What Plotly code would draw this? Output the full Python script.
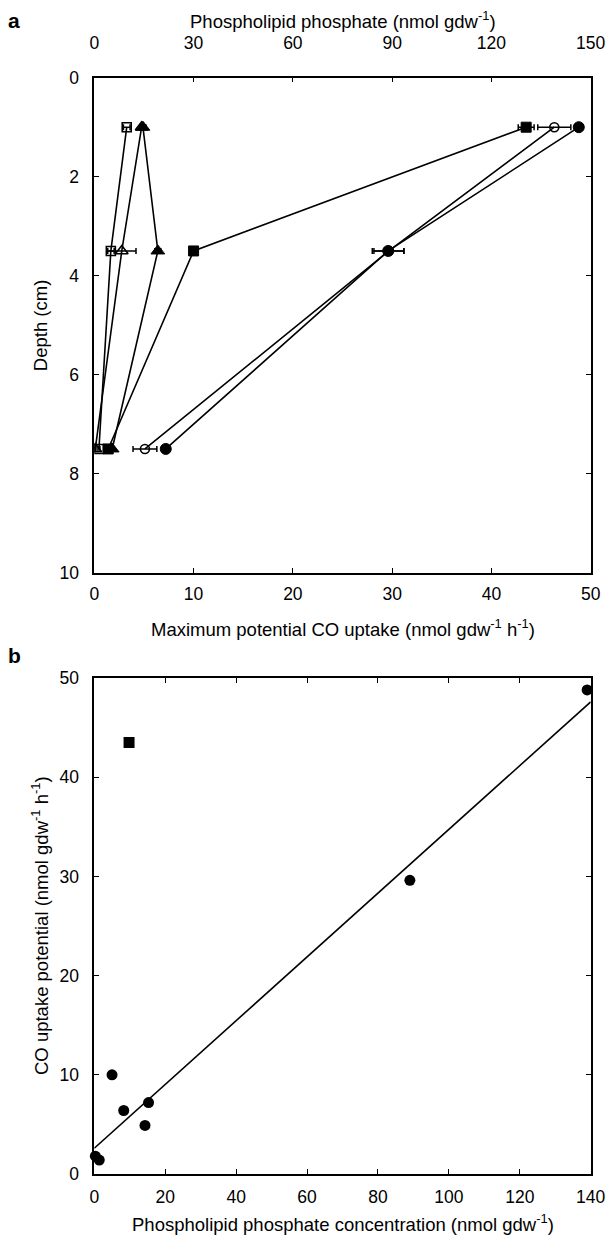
import plotly.graph_objects as go

# ---------------- data ----------------
depth = [1, 3.5, 7.5]

co_circle = [48.8, 29.6, 7.2]
co_square = [43.5, 10.0, 1.4]
co_triangle = [4.9, 6.4, 1.8]
co_circle_err = [0.4, 1.6, 0.3]
co_square_err = [0.8, 0.3, 0.1]
co_triangle_err = [0.3, 0.3, 0.1]

pl_circle = [139.0, 89.0, 15.3]
pl_square = [9.8, 5.0, 1.4]
pl_triangle = [14.3, 8.3, 0.3]
pl_circle_err = [5.0, 4.5, 3.6]
pl_square_err = [1.0, 1.0, 0.3]
pl_triangle_err = [0.5, 4.3, 0.2]

fit_intercept = 2.6
fit_slope = 0.3214
fit_x = [0, 140]

xa_ticks = [0, 10, 20, 30, 40, 50]
xa_top_ticks = [0, 30, 60, 90, 120, 150]
ya_ticks = [0, 2, 4, 6, 8, 10]
xb_ticks = [0, 20, 40, 60, 80, 100, 120, 140]
yb_ticks = [0, 10, 20, 30, 40, 50]

# ---------------- figure ----------------
OFF = 8  # page body margin
W, H = 614 - OFF, 1235 - OFF
FONT = "Liberation Sans, Arial, sans-serif"
TICK_SIZE = 17.5
TITLE_SIZE = 18.5
fig = go.Figure()


def px_x(v):
    return (v - OFF) / W


def px_y(v):
    return 1 - (v - OFF) / H


def err(vals):
    return dict(type="data", array=vals, visible=True, color="black",
                thickness=1.5, width=3)


line_style = dict(color="black", width=1.6)

# CO uptake (filled) on bottom axis
for xs, es, sym, sz in [(co_circle, co_circle_err, "circle", 11),
                        (co_square, co_square_err, "square", 10),
                        (co_triangle, co_triangle_err, "triangle-up", 12)]:
    fig.add_trace(go.Scatter(x=xs, y=depth, mode="lines+markers",
                             line=line_style, error_x=err(es),
                             marker=dict(symbol=sym, size=sz, color="black",
                                         line=dict(color="black", width=1)),
                             xaxis="x", yaxis="y", showlegend=False))

# Phospholipid (open) on top axis
for xs, es, sym, sz in [(pl_circle, pl_circle_err, "circle-open", 9),
                        (pl_square, pl_square_err, "square-open", 9),
                        (pl_triangle, pl_triangle_err, "triangle-up-open", 11)]:
    fig.add_trace(go.Scatter(x=xs, y=depth, mode="lines+markers",
                             line=line_style, error_x=err(es),
                             marker=dict(symbol=sym, size=sz, color="black",
                                         line=dict(color="black", width=1.6)),
                             xaxis="x3", yaxis="y", showlegend=False))

# Panel b
b_x = [pl_circle[0], pl_circle[1], pl_circle[2], pl_square[1], pl_square[2],
       pl_triangle[0], pl_triangle[1], pl_triangle[2]]
b_y = [co_circle[0], co_circle[1], co_circle[2], co_square[1], co_square[2],
       co_triangle[0], co_triangle[1], co_triangle[2]]
fig.add_trace(go.Scatter(x=b_x, y=b_y, mode="markers",
                         marker=dict(symbol="circle", size=11, color="black"),
                         xaxis="x2", yaxis="y2", showlegend=False, cliponaxis=False))
fig.add_trace(go.Scatter(x=[pl_square[0]], y=[co_square[0]], mode="markers",
                         marker=dict(symbol="square", size=11, color="black"),
                         xaxis="x2", yaxis="y2", showlegend=False))
fig.add_trace(go.Scatter(x=fit_x, y=[fit_intercept + fit_slope * v for v in fit_x],
                         mode="lines", line=dict(color="black", width=1.6),
                         xaxis="x2", yaxis="y2", showlegend=False))

# domains from pixel geometry of the reference
xdom = [px_x(94.3), px_x(590.7)]
ya_dom = [px_y(572.7), px_y(77.7)]
yb_dom = [px_y(1174), px_y(678)]

axis_common = dict(showline=True, linecolor="black", linewidth=1.5,
                   ticks="inside", ticklen=5, tickwidth=1.2, tickcolor="black",
                   showgrid=False, zeroline=False, automargin=False,
                   tickfont=dict(family=FONT, size=TICK_SIZE, color="black"))

fig.update_layout(
    width=W, height=H,
    margin=dict(l=0, r=0, t=0, b=0, autoexpand=False),
    paper_bgcolor="white", plot_bgcolor="white",
    font=dict(family=FONT, color="black"),
    xaxis=dict(domain=xdom, anchor="y", range=[0, 50], tickvals=xa_ticks,
               mirror=False, ticklabelstandoff=5, **axis_common),
    xaxis3=dict(overlaying="x", side="top", anchor="y", range=[0, 150],
                tickvals=xa_top_ticks, mirror=False, ticklabelstandoff=20,
                **axis_common),
    yaxis=dict(domain=ya_dom, anchor="x", range=[10, 0], tickvals=ya_ticks,
               mirror="ticks", ticklabelstandoff=10, **axis_common),
    xaxis2=dict(domain=xdom, anchor="y2", range=[0, 140], tickvals=xb_ticks,
                mirror="ticks", ticklabelstandoff=6, **axis_common),
    yaxis2=dict(domain=yb_dom, anchor="x2", range=[0, 50], tickvals=yb_ticks,
                mirror="ticks", ticklabelstandoff=10, **axis_common),
)

tfont = dict(family=FONT, size=TITLE_SIZE, color="black")
xmid = (xdom[0] + xdom[1]) / 2
annos = [
    dict(text="Phospholipid phosphate (nmol gdw<sup>-1</sup>)", x=xmid,
         y=px_y(20), xanchor="center", yanchor="middle"),
    dict(text="Maximum potential CO uptake (nmol gdw<sup>-1</sup> h<sup>-1</sup>)",
         x=xmid, y=px_y(628), xanchor="center", yanchor="middle"),
    dict(text="Depth (cm)", x=px_x(40), y=(ya_dom[0] + ya_dom[1]) / 2, textangle=-90,
         xanchor="center", yanchor="middle"),
    dict(text="Phospholipid phosphate concentration (nmol gdw<sup>-1</sup>)",
         x=xmid, y=px_y(1223), xanchor="center", yanchor="middle"),
    dict(text="CO uptake potential (nmol gdw<sup>-1</sup> h<sup>-1</sup>)", x=px_x(40),
         y=(yb_dom[0] + yb_dom[1]) / 2, textangle=-90, xanchor="center", yanchor="middle"),
]
for a in annos:
    fig.add_annotation(xref="paper", yref="paper", showarrow=False, font=tfont, **a)

for lab, ypx in [("a", 20), ("b", 655)]:
    fig.add_annotation(text=f"<b>{lab}</b>", xref="paper", yref="paper", x=px_x(14),
                       y=px_y(ypx), showarrow=False, xanchor="center", yanchor="middle",
                       font=dict(family=FONT, size=21, color="black"))

fig.write_html("out.html")
